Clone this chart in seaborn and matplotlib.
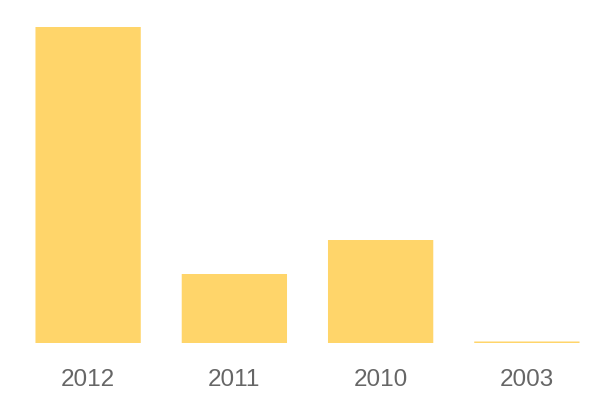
import matplotlib
matplotlib.use("Agg")
import matplotlib.pyplot as plt
import seaborn as sns
import pandas as pd

years = ["2012", "2011", "2010", "2003"]
values = [316, 69, 103, 1.5]

sns.set_theme(style="white")
plt.rcParams['font.family'] = ['Liberation Sans', 'DejaVu Sans']

fig = plt.figure(figsize=(6, 4), dpi=100)
ax = fig.add_axes([15/600, 1 - 343/400, 585/600, (343 - 27)/400])
df = pd.DataFrame({"year": years, "value": values})
sns.barplot(data=df, x="year", y="value", color="#FFD56A", saturation=1,
            width=0.72, ax=ax)
for p in ax.patches:
    p.set_snap(False)
    p.set_linewidth(0)
ax.set_ylim(0, max(values))
ax.set_xlim(-0.5, len(years) - 0.5)
for s in ax.spines.values():
    s.set_visible(False)
ax.set_yticks([])
ax.set_xlabel("")
ax.set_ylabel("")
ax.tick_params(axis="x", length=0, pad=19, labelsize=17.5, labelcolor="#666666")
fig.savefig("out.png", dpi=100, facecolor="white")
